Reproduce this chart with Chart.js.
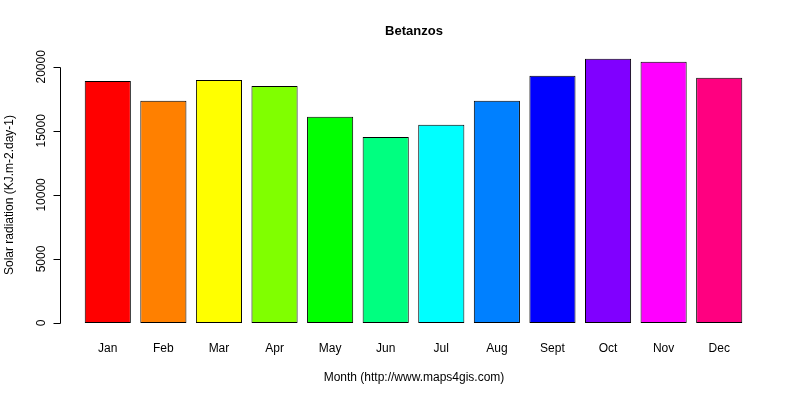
<!DOCTYPE html>
<html><head><meta charset="utf-8">
<script src="https://cdn.jsdelivr.net/npm/chart.js@4"></script>
<style>html,body{margin:0;background:#fff}#c{display:block}</style>
</head><body>
<div style="width:800px;height:400px"><canvas id="c"></canvas></div>
<script>
const months = ["Jan","Feb","Mar","Apr","May","Jun","Jul","Aug","Sept","Oct","Nov","Dec"];
const radiation = [18900,17350,18980,18500,16100,14530,15470,17350,19300,20620,20390,19140];
const barColors = ["#FF0000","#FF8000","#FFFF00","#80FF00","#00FF00","#00FF80","#00FFFF","#0080FF","#0000FF","#8000FF","#FF00FF","#FF0080"];
const yTicks = [0,5000,10000,15000,20000];
const FONT = '"Liberation Sans", Arial, sans-serif';

const axesPlugin = {
  id:'rAxes',
  afterDraw(chart){
    const ctx = chart.ctx, y = chart.scales.y, x = chart.scales.x;
    ctx.save();
    ctx.strokeStyle='#000'; ctx.fillStyle='#000'; ctx.lineWidth=1;
    ctx.font='bold 13px '+FONT; ctx.textAlign='center'; ctx.textBaseline='middle';
    ctx.fillText('Betanzos',414,31);
    ctx.font='12px '+FONT;
    const ax=60.5;
    ctx.beginPath();
    ctx.moveTo(ax,Math.round(y.getPixelForValue(yTicks[0]))+0.5);
    ctx.lineTo(ax,Math.round(y.getPixelForValue(yTicks[yTicks.length-1]))+0.5);
    yTicks.forEach(t=>{const p=Math.round(y.getPixelForValue(t))+0.5;ctx.moveTo(ax,p);ctx.lineTo(ax-7,p);});
    ctx.stroke();
    yTicks.forEach(t=>{const p=y.getPixelForValue(t);ctx.save();ctx.translate(42,p);ctx.rotate(-Math.PI/2);ctx.fillText(String(t),0,0);ctx.restore();});
    months.forEach((m,i)=>ctx.fillText(m,x.getPixelForValue(i),349));
    ctx.fillText('Month (http://www.maps4gis.com)',414,378);
    ctx.save();ctx.translate(10,195);ctx.rotate(-Math.PI/2);ctx.fillText('Solar radiation (KJ.m-2.day-1)',0,0);ctx.restore();
    ctx.restore();
  }
};

new Chart(document.getElementById('c'),{
  type:'bar',
  data:{labels:months,datasets:[{data:radiation,backgroundColor:barColors,borderColor:'#000',borderWidth:1,borderSkipped:false,barPercentage:0.83,categoryPercentage:1}]},
  options:{
    responsive:true,maintainAspectRatio:false,animation:false,
    layout:{padding:{left:80,right:53,top:54,bottom:77}},
    plugins:{legend:{display:false},tooltip:{enabled:false}},
    scales:{
      x:{display:false,offset:true},
      y:{display:false,min:0,max:21000}
    }
  },
  plugins:[axesPlugin]
});
</script>
</body></html>
